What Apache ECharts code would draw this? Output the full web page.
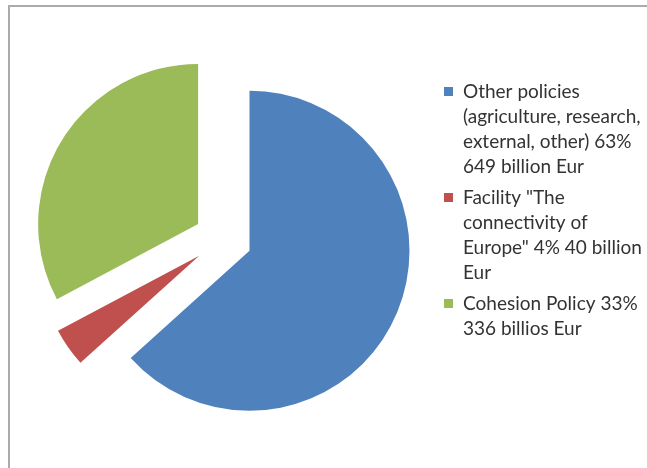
<!DOCTYPE html>
<html><head><meta charset="utf-8">
<script src="https://cdn.jsdelivr.net/npm/echarts@6/dist/echarts.min.js"></script>
<style>html,body{margin:0;padding:0;background:#fff}#c{width:647px;height:468px}</style>
</head><body><div id="c"></div>
<script>
var categories = ['Other policies', 'Facility "The connectivity of Europe"', 'Cohesion Policy'];
var values = [649, 40, 336];
var legendLines = [
  ['Other policies', '(agriculture, research,', 'external, other) 63%', '649 billion Eur'],
  ['Facility "The', 'connectivity of', 'Europe" 4% 40 billion', 'Eur'],
  ['Cohesion Policy 33%', '336 billios Eur']
];
var colors = ['#4F81BD', '#C0504D', '#9BBB59'];

var chart = echarts.init(document.getElementById('c'), null, {renderer: 'canvas'});
var graphics = [{
  type: 'rect', shape: {x: 9, y: 6, width: 700, height: 520},
  style: {fill: 'none', stroke: '#ababab', lineWidth: 2}, silent: true
}];
var y = 92, lh = 25;
legendLines.forEach(function (lines, i) {
  graphics.push({type: 'rect', shape: {x: 444, y: y - 5, width: 9, height: 9}, style: {fill: colors[i]}});
  graphics.push({type: 'text', x: 463, y: y - lh / 2, style: {
    text: lines.join('\n'), font: '19px Lato', fill: '#333333', lineHeight: lh, verticalAlign: 'top'
  }});
  y += lines.length * lh + 6;
});
chart.setOption({
  animation: false,
  color: colors,
  graphic: graphics,
  series: [{
    type: 'pie',
    center: [223, 239],
    radius: 160,
    startAngle: 90,
    clockwise: true,
    selectedMode: 'multiple',
    selectedOffset: 29,
    label: {show: false}, labelLine: {show: false},
    emphasis: {disabled: true},
    data: categories.map(function (c, i) { return {name: c, value: values[i], selected: true}; })
  }]
});
</script></body></html>
